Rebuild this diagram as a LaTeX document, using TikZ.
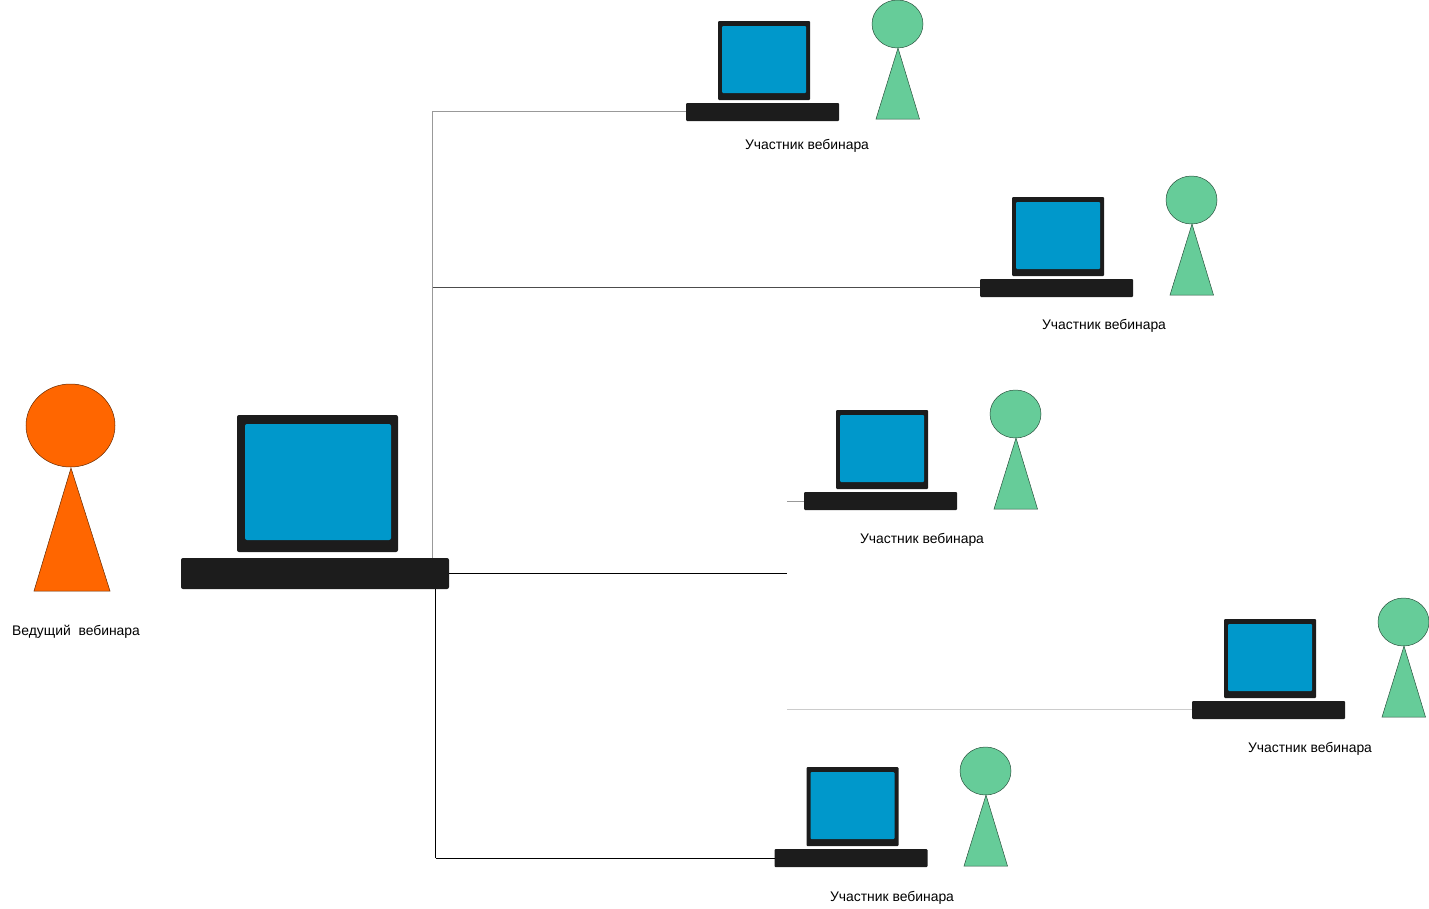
\documentclass[tikz,border=0pt]{standalone}
\usepackage{fontspec}
\setmainfont{Liberation Sans}
\usetikzlibrary{shapes.geometric}
\definecolor{bodydark}{HTML}{1C1C1C}
\definecolor{screenblue}{HTML}{0098CB}
\definecolor{guestgreen}{HTML}{66CC99}
\definecolor{hostorange}{HTML}{FF6600}
\tikzset{
  x=1pt,y=-1pt,
  every node/.style={inner sep=0pt,outer sep=0pt},
  keybase/.style={draw=none,fill=bodydark,rectangle,rounded corners=1pt},
  bezel/.style={draw=none,fill=bodydark,rectangle,rounded corners=1pt},
  screenpane/.style={draw=none,fill=screenblue,rectangle,rounded corners=1pt},
  caption/.style={font=\fontsize{13.9}{16}\selectfont,text=black,align=center},
  wire/.style={line width=1pt},
  wirefaint/.style={wire,color=black!20},
  wiregray/.style={wire,color=black!40},
  wiredark/.style={wire,color=black!70},
  wireblack/.style={wire,color=black},
  pics/laptop/.style={code={
    \node[keybase,minimum width=153pt,minimum height=18pt] (-base) at (76.5,100) {};
    \node[bezel,minimum width=92pt,minimum height=79pt] (-bezel) at (78,48.5) {};
    \node[screenpane,minimum width=84pt,minimum height=67pt] (-pane) at (78,47.5) {};
  }},
  pics/guest/.style={code={
    \node[ellipse,draw=black!60!guestgreen,fill=guestgreen,line width=.5pt,minimum width=51pt,minimum height=48pt] (-head) at (0.5,0) {};
    \draw[draw=black!60!guestgreen,fill=guestgreen,line width=.5pt] (1,24) -- (22.5,95) -- (-21,95) -- cycle;
  }}
}
\begin{document}
\begin{tikzpicture}
\useasboundingbox (0,0) rectangle (1429,908);
% host
\node[ellipse,draw=black!60!hostorange,fill=hostorange,line width=.5pt,minimum width=89pt,minimum height=83pt] (hosthead) at (70.5,425.5) {};
\draw[draw=black!60!hostorange,fill=hostorange,line width=.5pt] (71,468) -- (110,591) -- (34,591) -- cycle;
\node[caption] (hostlabel) at (76,632) {Ведущий\ \ вебинара};
% coordinates of junctions and free ends
\coordinate (upj) at (432.5,558);
\coordinate (topj) at (432.5,111);
\coordinate (midj) at (432.5,287);
\coordinate (lowj) at (435.5,589);
\coordinate (botj) at (435.5,858);
\coordinate (endmid) at (787,573.5);
\coordinate (stub3) at (787,501);
\coordinate (stub4) at (787,709.5);
% wires under the machines
\draw[wiregray] (upj) -- (topj);
\draw[wireblack] (lowj) -- (botj);
% host laptop
\node[keybase,minimum width=268pt,minimum height=31pt,rounded corners=2pt] (hostbase) at (315,573.5) {};
\node[bezel,minimum width=161pt,minimum height=137pt,rounded corners=2pt] (hostbezel) at (317.5,483.5) {};
\node[screenpane,minimum width=146pt,minimum height=116pt,rounded corners=2pt] (hostpane) at (318,482) {};
% participants
\pic (lapa) at (686,12) {laptop};
\pic (gua) at (897,24) {guest};
\node[caption] (laba) at (807,146) {Участник вебинара};
\pic (lapb) at (980,188) {laptop};
\pic (gub) at (1191,200) {guest};
\node[caption] (labb) at (1104,326) {Участник вебинара};
\pic (lapc) at (804,401) {laptop};
\pic (guc) at (1015,414) {guest};
\node[caption] (labc) at (922,540) {Участник вебинара};
\pic (lapd) at (1192,610) {laptop};
\pic (gud) at (1403,622) {guest};
\node[caption] (labd) at (1310,749) {Участник вебинара};
\pic (lape) at (774.5,758) {laptop};
\pic (gue) at (985,771) {guest};
\node[caption] (labe) at (892,898) {Участник вебинара};
% connectors
\draw[wiregray] (topj) -- (topj -| lapa-base.west);
\draw[wiredark] (midj) -- (midj -| lapb-base.west);
\draw[wireblack] (hostbase.east) -- (endmid);
\draw[wiregray] (stub3) -- (stub3 -| lapc-base.west);
\draw[wirefaint] (stub4) -- (stub4 -| lapd-base.west);
\draw[wireblack] (botj) -- (botj -| lape-base.west);
\end{tikzpicture}
\end{document}
